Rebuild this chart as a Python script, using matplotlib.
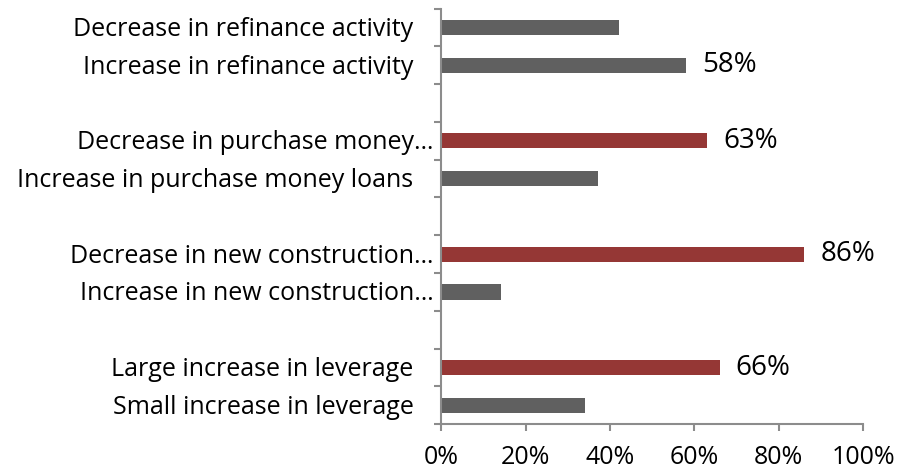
import matplotlib
matplotlib.use("Agg")
import matplotlib.pyplot as plt
from matplotlib.transforms import ScaledTranslation
import numpy as np

plt.rcParams['font.family'] = ['Open Sans', 'DejaVu Sans']

# Categories from top to bottom ("" = spacer slot)
categories = [
    "Decrease in refinance activity",
    "Increase in refinance activity",
    "",
    "Decrease in purchase money\u2026",
    "Increase in purchase money loans",
    "",
    "Decrease in new construction\u2026",
    "Increase in new construction\u2026",
    "",
    "Large increase in leverage",
    "Small increase in leverage",
]
values = [42, 58, None, 63, 37, None, 86, 14, None, 66, 34]
highlight = [False, False, False, True, False, False, True, False, False, True, False]
show_label = [False, True, False, True, False, False, True, False, False, True, False]
xticks = [0, 20, 40, 60, 80, 100]
xtick_labels = ["0%", "20%", "40%", "60%", "80%", "100%"]

GRAY = "#606060"
RED = "#953735"
AXIS = "#8c8c8c"

fig = plt.figure(figsize=(9.01, 4.73), dpi=100)
ax = fig.add_axes([0.490, 0.103, 0.468, 0.879])

y = np.arange(len(categories))
for yi, v, hi, sl in zip(y, values, highlight, show_label):
    if v is None:
        continue
    ax.barh(yi, v, height=0.4, color=RED if hi else GRAY)
    if sl:
        ax.text(v + 3.8, yi, f"{v}%", va="center", ha="left", fontsize=20, color="black")

ax.set_xlim(0, 100)
ax.set_ylim(len(categories) - 0.5, -0.5)
ax.set_xticks(xticks)
ax.set_xticklabels(xtick_labels, fontsize=18)
ax.set_yticks(y)
ax.set_yticklabels([])
ax.tick_params(axis='y', length=0)
ax.set_yticks(np.arange(-0.5, len(categories), 1.0), minor=True)
ax.tick_params(axis='y', which='minor', length=5, width=1.5, color=AXIS, direction='out')
ax.tick_params(axis='x', length=5, width=1.5, color=AXIS, direction='out', pad=10)

# category labels: right-aligned 28 px left of the axis, ellipsis hanging past
for yi, lab in zip(y, categories):
    if not lab:
        continue
    dx = -28 if not lab.endswith("\u2026") else -8
    tr = ax.get_yaxis_transform() + ScaledTranslation(dx / 100, -2 / 100, fig.dpi_scale_trans)
    ax.text(0, yi, lab, transform=tr, ha="right", va="center", fontsize=18, color="black")

for s in ['top', 'right']:
    ax.spines[s].set_visible(False)
for s in ['left', 'bottom']:
    ax.spines[s].set_color(AXIS)
    ax.spines[s].set_linewidth(1.5)

fig.savefig("out.png", dpi=100)
